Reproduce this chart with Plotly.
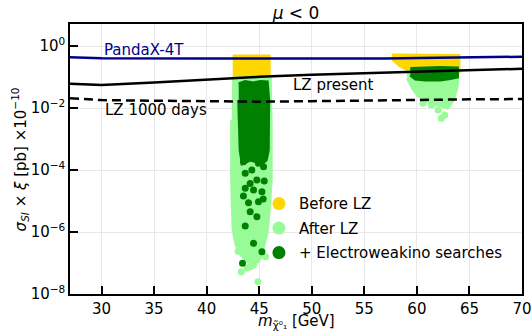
import plotly.graph_objects as go

# ---- limit curves (x in GeV, y in pb x 1e-10) ----
pandax_x = [27, 30, 40, 50, 57, 62, 66, 70]
pandax_y = [0.432, 0.40, 0.395, 0.39, 0.395, 0.416, 0.435, 0.452]

lz_x = [27, 30, 35, 40, 45, 50, 55, 60, 65, 70]
lz_y = [0.061, 0.0552, 0.0665, 0.083, 0.101, 0.119, 0.133, 0.148, 0.166, 0.185]

lz1000_x = [27, 30, 35, 40, 45, 50, 55, 60, 65, 70]
lz1000_y = [0.0206, 0.018, 0.0172, 0.0163, 0.016, 0.0166, 0.0175, 0.0186, 0.019, 0.0195]

# ---- scan regions: left band (Z funnel) ----
gold_l_x = [42.48, 45.95, 45.95, 42.48]
gold_l_y = [0.475, 0.475, 0.08, 0.08]

lg_l_x = [42.43, 46.05, 46.14, 46.14, 45.95, 45.76, 45.38, 45.10, 44.62, 43.95, 43.29, 42.81, 42.52, 42.38, 42.38]
lg_l_y = [0.0929, 0.0929, 1.95e-3, 4.76e-5, 5.1e-6, 1.0e-6, 3.0e-7, 1.45e-7, 1.08e-7, 1.08e-7, 1.8e-7, 3.8e-7, 1.16e-6, 4.76e-5, 4.1e-3]
lg_l_pts_x = [44.88, 43.29, 43.83, 44.14, 44.46, 44.78, 43.0, 45.6]
lg_l_pts_y = [2.5e-8, 5.2e-8, 6.9e-8, 7.6e-8, 8.6e-8, 1.25e-7, 2.4e-7, 1.6e-7]

dg_l_x = [43.05, 43.67, 44.43, 45.10, 45.76, 45.90, 45.86, 45.67, 45.29, 44.14, 43.38, 43.19, 43.05]
dg_l_y = [0.0594, 0.0716, 0.064, 0.0716, 0.069, 0.0181, 4.4e-4, 2.1e-4, 1.6e-4, 2.1e-4, 1.6e-4, 4.4e-4, 0.0181]
dg_l_pts_x = [43.50, 44.93, 45.41, 44.30, 43.67, 44.14, 44.78, 45.48, 43.67, 44.46, 45.26,
              43.50, 43.98, 44.93, 44.14, 44.78, 43.67, 44.46, 45.26, 43.41, 45.38]
dg_l_pts_y = [1.85e-4, 1.64e-4, 1.28e-4, 1.0e-4, 7.8e-5, 3.7e-5, 4.75e-5, 4.4e-5, 2.57e-5, 2.26e-5, 2.0e-5,
              1.45e-5, 8.8e-6, 9.5e-6, 4.5e-6, 3.1e-6, 1.56e-6, 4.3e-7, 2.3e-7, 9.8e-8, 1.16e-5]

# ---- scan regions: right blob (h funnel) ----
gold_r_x = [57.62, 64.0, 64.0, 59.57, 58.43, 57.67]
gold_r_y = [0.513, 0.494, 0.145, 0.145, 0.226, 0.381]

lg_r_x = [59.0, 63.86, 63.86, 63.67, 63.48, 62.90, 62.24, 61.10, 60.14, 59.57, 59.10]
lg_r_y = [0.145, 0.145, 0.0552, 0.0328, 0.0181, 0.010, 0.0116, 0.0156, 0.0244, 0.0442, 0.0929]
lg_r_pts_x = [60.59, 61.38, 62.02, 62.81, 62.65, 62.33]
lg_r_pts_y = [0.0142, 0.0125, 8.6e-3, 0.0125, 5.9e-3, 4.65e-3]

dg_r_x = [59.38, 62.24, 63.86, 63.86, 63.19, 62.24, 60.81, 59.86, 59.38]
dg_r_y = [0.188, 0.202, 0.195, 0.1, 0.0895, 0.08, 0.08, 0.086, 0.116]

legend_names = ["Before LZ", "After LZ", "+ Electroweakino searches"]

GOLD = "#FFD700"
LGREEN = "#98FB98"
DGREEN = "#008000"
FONT = "DejaVu Sans"

fig = go.Figure()

def region(x, y, color):
    fig.add_trace(go.Scatter(x=x, y=y, mode="lines", fill="toself", fillcolor=color,
                             line=dict(color=color, width=3), showlegend=False, hoverinfo="skip"))

def points(x, y, color):
    fig.add_trace(go.Scatter(x=x, y=y, mode="markers", marker=dict(color=color, size=7, line=dict(width=0)),
                             showlegend=False, hoverinfo="skip"))

region(gold_l_x, gold_l_y, GOLD)
region(gold_r_x, gold_r_y, GOLD)
region(lg_l_x, lg_l_y, LGREEN)
points(lg_l_pts_x, lg_l_pts_y, LGREEN)
region(lg_r_x, lg_r_y, LGREEN)
points(lg_r_pts_x, lg_r_pts_y, LGREEN)
region(dg_l_x, dg_l_y, DGREEN)
points(dg_l_pts_x, dg_l_pts_y, DGREEN)
region(dg_r_x, dg_r_y, DGREEN)

# limit lines
fig.add_trace(go.Scatter(x=pandax_x, y=pandax_y, mode="lines", line=dict(color="#00008B", width=2.5),
                         showlegend=False, hoverinfo="skip"))
fig.add_trace(go.Scatter(x=lz_x, y=lz_y, mode="lines", line=dict(color="black", width=2.5),
                         showlegend=False, hoverinfo="skip"))
fig.add_trace(go.Scatter(x=lz1000_x, y=lz1000_y, mode="lines", line=dict(color="black", width=2.5, dash="9px,5px"),
                         showlegend=False, hoverinfo="skip"))

# legend entries
for i, (name, col) in enumerate(zip(legend_names, [GOLD, LGREEN, DGREEN])):
    fig.add_trace(go.Scatter(x=[None], y=[None], mode="markers", name=name, legendgroup="g%d" % i,
                             marker=dict(color=col, size=13)))

# line labels
fig.add_annotation(x=30.0, y=-0.13, xref="x", yref="y", text="PandaX-4T", showarrow=False,
                   xanchor="left", yanchor="middle", font=dict(color="#00008B", size=15, family=FONT))
fig.add_annotation(x=48.05, y=-1.27, xref="x", yref="y", text="LZ present", showarrow=False,
                   xanchor="left", yanchor="middle", font=dict(color="black", size=15, family=FONT))
fig.add_annotation(x=30.1, y=-2.05, xref="x", yref="y", text="LZ 1000 days", showarrow=False,
                   xanchor="left", yanchor="middle", font=dict(color="black", size=15, family=FONT))

# axis titles
fig.add_annotation(x=0.5, y=-0.1, xref="paper", yref="paper", text="<i>m</i><sub>χ̃⁰₁</sub> [GeV]",
                   showarrow=False, xanchor="center", yanchor="middle", font=dict(size=15, family=FONT))
fig.add_annotation(x=-0.112, y=0.5, xref="paper", yref="paper", textangle=-90,
                   text="<i>σ</i><sub><i>SI</i></sub> × <i>ξ</i> [pb] ×10<sup>−10</sup>",
                   showarrow=False, xanchor="center", yanchor="middle", font=dict(size=15, family=FONT))

fig.update_layout(
    width=532, height=332,
    margin=dict(l=70, r=10, t=24, b=38, autoexpand=False),
    paper_bgcolor="white", plot_bgcolor="white",
    font=dict(family=FONT, size=15, color="black"),
    title=dict(text="<i>μ</i> < 0", x=0.5, xref="paper", y=1 - 13 / 332, yref="container",
               xanchor="center", yanchor="middle", font=dict(size=17, family=FONT)),
    showlegend=True,
    legend=dict(x=0.418, y=0.395, xanchor="left", yanchor="top", bgcolor="rgba(0,0,0,0)",
                font=dict(size=15, family=FONT), itemsizing="trace", tracegroupgap=2),
)

fig.update_xaxes(
    range=[27, 70], tickvals=[30, 35, 40, 45, 50, 55, 60, 65, 70], automargin=False,
    ticks="inside", ticklen=8, tickwidth=1.5, tickcolor="black",
    showline=True, linecolor="black", linewidth=1.5, mirror=True,
    showgrid=True, gridcolor="#e8e8e8", gridwidth=1, zeroline=False,
    tickfont=dict(size=15),
)
fig.update_yaxes(
    type="log", range=[-8, 0.71], automargin=False,
    tickvals=[1e-8, 1e-6, 1e-4, 1e-2, 1],
    ticktext=["10<sup>−8</sup>", "10<sup>−6</sup>", "10<sup>−4</sup>", "10<sup>−2</sup>", "10<sup>0</sup>"],
    ticks="inside", ticklen=8, tickwidth=1.5, tickcolor="black",
    showline=True, linecolor="black", linewidth=1.5, mirror=True,
    showgrid=True, gridcolor="#e8e8e8", gridwidth=1, zeroline=False,
    tickfont=dict(size=15),
)

fig.write_html("out.html")
